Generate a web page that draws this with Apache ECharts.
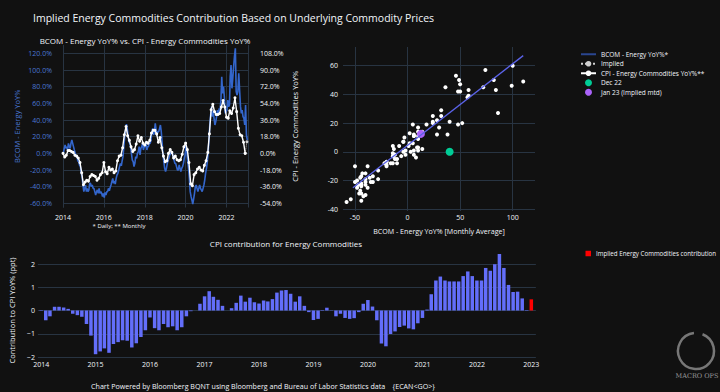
<!DOCTYPE html>
<html><head><meta charset="utf-8">
<script src="https://cdn.jsdelivr.net/npm/echarts@6/dist/echarts.min.js"></script>
<style>html,body{margin:0;padding:0;background:#111111;}#c{width:720px;height:392px;}</style>
</head><body><div id="c"></div>
<script>
// ---------- DATA ----------
const startYear = 2014;
// CPI - Energy Commodities YoY% (monthly, Jan 2014 .. Dec 2022)
const cpiYoY = [
  0, -4, -2, 3, 3, 2, 1, -2, -3, -5, -10, -21,
  -34, -31, -29, -30, -25, -23, -24, -25, -29, -27, -23, -21,
  -10, -20, -22, -15, -18, -17, -21, -19, -8, -3, -2, 6,
  20, 29, 19, 14, 7, 2, 4, 10, 19, 13, 17, 11,
  9, 12, 11, 14, 22, 25, 25, 21, 12, 17, 6, -3,
  -9, -8, 0, 4, 1, -5, -3, -7, -8, -7, -1, 7,
  11, 4, -10, -33, -35, -23, -21, -17, -15, -18, -19, -13,
  -8, 1, 21, 47, 53, 45, 42, 42, 43, 50, 57, 50,
  39, 38, 46, 43, 49, 60, 45, 27, 20, 19, 12, 0
];
// BCOM - Energy YoY% (daily series, read at ~8th of each month), Jan 2014 .. Jan 2023
const bcomFirstHalf = [
  0, 10, 8, 12, 6, 16, 8, 0, -3, -10, -16, -28,
  -46, -38, -42, -44, -36, -38, -42, -50, -44, -42, -46, -52,
  -53, -50, -46, -45, -38, -30, -33, -30, -24, -16, -15, -4,
  20, 35, 22, 12, 0, -10, -12, -6, 2, -2, 8, 4,
  8, 4, 8, 12, 26, 22, 36, 22, 26, 34, 12, -10,
  -22, -12, -6, 0, 0, -8, -12, -20, -14, -22, -16, -6,
  10, -10, -30, -52, -61, -48, -38, -46, -38, -44, -42, -32,
  -18, 2, 34, 56, 50, 34, 44, 46, 52, 92, 80, 48,
  52, 56, 92, 78, 104, 126, 70, 96, 56, 52, 42, 58,
  16
];
// BCOM - Energy YoY% (read at ~23rd of each month), Jan 2014 .. Dec 2022
const bcomSecondHalf = [
  6, 6, 4, 8, 12, 12, 4, -4, -9, -14, -24, -38,
  -42, -46, -46, -36, -40, -42, -46, -46, -48, -48, -48, -48,
  -47, -46, -42, -41, -34, -36, -37, -26, -20, -12, -9, 8,
  28, 29, 14, 8, -8, -16, -4, 0, 8, 6, 12, 8,
  12, 8, 12, 16, 30, 26, 28, 26, 30, 26, -2, -18,
  -18, -8, -2, 2, -4, -12, -16, -20, -18, -18, -12, -2,
  2, -18, -46, -56, -55, -40, -42, -42, -42, -46, -38, -24,
  -10, 18, 46, 44, 42, 38, 52, 54, 64, 72, 68, 50,
  64, 58, 106, 90, 116, 74, 74, 76, 48, 44, 34, 22
];
// BCOM - Energy YoY% monthly average (scatter x), Jan 2014 .. Dec 2022
const bcomMonthlyAvg = [
  3, 8, 6, 10, 9, 14, 6, -2, -6, -12, -20, -33,
  -44, -42, -44, -40, -38, -40, -44, -48, -46, -45, -47, -50,
  -50, -48, -44, -43, -36, -33, -35, -28, -22, -14, -12, 2,
  24, 32, 18, 10, -4, -13, -8, -3, 5, 2, 10, 6,
  10, 6, 10, 14, 28, 24, 32, 24, 28, 30, 5, -14,
  -20, -10, -4, 1, -2, -10, -14, -20, -16, -20, -14, -4,
  6, -14, -38, -54, -58, -44, -40, -44, -40, -45, -40, -28,
  -14, 10, 40, 50, 46, 36, 48, 50, 58, 82, 74, 49,
  58, 57, 99, 84, 110, 100, 72, 86, 52, 48, 38, 40
];
// Contribution to CPI YoY% (ppt), Jan 2014 .. Dec 2022
const contribution = [
  -0.02, -0.42, -0.25, 0.16, 0.16, 0.13, 0.07, -0.14, -0.2, -0.27, -0.58, -1.08,
  -1.88, -1.76, -1.63, -1.82, -1.44, -1.36, -1.28, -1.3, -1.59, -1.41, -1.14, -0.85,
  -0.3, -0.76, -0.85, -0.58, -0.72, -0.68, -0.85, -0.72, -0.25, -0.03, 0.0, 0.29,
  0.61, 0.83, 0.59, 0.46, 0.2, 0.0, 0.1, 0.33, 0.64, 0.38, 0.55, 0.36,
  0.3, 0.43, 0.39, 0.49, 0.77, 0.86, 0.88, 0.72, 0.38, 0.61, 0.2, -0.07,
  -0.41, -0.36, 0.02, 0.12, -0.01, -0.25, -0.14, -0.32, -0.36, -0.33, -0.07, 0.29,
  0.45, 0.17, -0.42, -1.42, -1.54, -1.01, -0.9, -0.71, -0.65, -0.77, -0.81, -0.55,
  -0.32, 0.04, 0.7, 1.29, 1.46, 1.29, 1.25, 1.25, 1.25, 1.48, 1.68, 1.48,
  1.29, 1.29, 1.83, 1.71, 1.99, 2.43, 1.83, 1.1, 0.8, 0.81, 0.52, 0.02
];
const impliedContribDates = ['2023-01-01'];
const impliedContrib = [0.48];
const impliedCpiDates = ['2022-12-01', '2023-01-01'];
const impliedCpi = [0, 12.5];
const dec22Point = [40, 0];
const jan23Point = [12.7, 12.5];
const fitX = [-52, 110];
const fitY = [-25, 67];
const leftTicks = [-60, -40, -20, 0, 20, 40, 60, 80, 100, 120];
const rightTicks = [-54, -36, -18, 0, 18, 36, 54, 72, 90, 108];
const scatterXTicks = [-50, 0, 50, 100];
const scatterYTicks = [-40, -20, 0, 20, 40, 60];

// ---------- BUILD ----------
const monthKey = i => (startYear + Math.floor(i / 12)) + '-' + String((i % 12) + 1).padStart(2, '0');
const cpiLine = cpiYoY.map((v, i) => [monthKey(i) + '-01', v]);
const bcomLine = [];
bcomFirstHalf.forEach((v, i) => {
  bcomLine.push([monthKey(i) + '-08', v]);
  if (i < bcomSecondHalf.length) bcomLine.push([monthKey(i) + '-23', bcomSecondHalf[i]]);
});
const scatterPts = bcomMonthlyAvg.map((x, i) => [x, cpiYoY[i]]);
const barData = contribution.map((v, i) => [monthKey(i) + '-01', v]);
const impliedBar = impliedContribDates.map((d, i) => [d, impliedContrib[i]]);
const impliedLine = impliedCpiDates.map((d, i) => [d, impliedCpi[i]]);
const fitLine = fitX.map((x, i) => [x, fitY[i]]);

const FONT = '"Open Sans", "DejaVu Sans", sans-serif';
const TXT = '#f2f5fa';
const GRIDC = '#283442';
const BLUE = '#3366cc';
const YEAR = 365 * 864e5;

const chart = echarts.init(document.getElementById('c'), null, {renderer: 'svg'});
const tickFont = {color: TXT, fontSize: 7, fontFamily: FONT};

chart.setOption({
  backgroundColor: '#111111',
  animation: false,
  textStyle: {fontFamily: FONT},
  grid: [
    {left: 63, top: 45, width: 185, height: 162.5},
    {left: 343, top: 47, width: 192, height: 164},
    {left: 37.5, top: 264, width: 498.4, height: 93}
  ],
  xAxis: [
    {type: 'time', gridIndex: 0, min: '2014-01-01', max: '2023-01-20',
     minInterval: 2 * YEAR, maxInterval: 2 * YEAR,
     axisLine: {show: false}, axisTick: {show: false},
     splitLine: {show: true, lineStyle: {color: GRIDC, width: 1}},
     axisLabel: Object.assign({formatter: '{yyyy}', margin: 6, hideOverlap: false}, tickFont)},
    {type: 'value', gridIndex: 1, min: -61.4, max: 121.2,
     axisLine: {show: false},
     axisTick: {show: false, customValues: scatterXTicks},
     splitLine: {show: true, lineStyle: {color: GRIDC}},
     axisLabel: Object.assign({customValues: scatterXTicks, margin: 3}, tickFont),
     name: 'BCOM - Energy YoY% [Monthly Average]', nameLocation: 'middle', nameGap: 16,
     nameTextStyle: {color: TXT, fontSize: 7.1, fontFamily: FONT}},
    {type: 'time', gridIndex: 2, min: '2013-12-22', max: '2023-01-20',
     minInterval: YEAR, maxInterval: YEAR,
     axisLine: {show: false}, axisTick: {show: false}, splitLine: {show: false},
     axisLabel: Object.assign({formatter: '{yyyy}', margin: 4, hideOverlap: false}, tickFont)}
  ],
  yAxis: [
    {type: 'value', gridIndex: 0, min: -65, max: 130,
     axisLine: {show: false},
     axisTick: {show: false, customValues: leftTicks},
     splitLine: {show: true, lineStyle: {color: GRIDC}},
     axisLabel: {customValues: leftTicks, formatter: v => v.toFixed(1) + '%', color: '#4a77d4', fontSize: 7, fontFamily: FONT, margin: 11},
     name: 'BCOM - Energy YoY%', nameLocation: 'middle', nameGap: 42,
     nameTextStyle: {color: '#4a77d4', fontSize: 7.5, fontFamily: FONT}},
    {type: 'value', gridIndex: 0, position: 'right', min: -58.5, max: 117,
     axisLine: {show: false},
     axisTick: {show: false, customValues: rightTicks},
     splitLine: {show: false},
     axisLabel: Object.assign({customValues: rightTicks, formatter: v => v.toFixed(1) + '%', margin: 12}, tickFont),
     name: 'CPI - Energy Commodities YoY%', nameLocation: 'middle', nameGap: 43,
     nameTextStyle: {color: TXT, fontSize: 7.5, fontFamily: FONT}},
    {type: 'value', gridIndex: 1, min: -41.2, max: 73,
     axisLine: {show: false},
     axisTick: {show: false, customValues: scatterYTicks},
     splitLine: {show: true, lineStyle: {color: GRIDC}},
     axisLabel: Object.assign({customValues: scatterYTicks, margin: 5}, tickFont)},
    {type: 'value', gridIndex: 2, min: -2, max: 2, interval: 1,
     axisLine: {show: false}, axisTick: {show: false},
     splitLine: {show: true, lineStyle: {color: GRIDC}},
     axisLabel: Object.assign({margin: 3, formatter: v => (v < 0 ? '\u2212' + (-v) : String(v))}, tickFont),
     name: 'Contribution to CPI YoY% (ppt)', nameLocation: 'middle', nameGap: 15,
     nameTextStyle: {color: TXT, fontSize: 7.5, fontFamily: FONT}}
  ],
  legend: [
    {left: 580, top: 50, padding: 0, orient: 'vertical', itemWidth: 15, itemHeight: 7, itemGap: 1,
     textStyle: {color: TXT, fontSize: 6.5, fontFamily: FONT, lineHeight: 8.5},
     data: [
       {name: 'BCOM - Energy YoY%*', itemStyle: {opacity: 0}, lineStyle: {color: '#2a4690', width: 2}},
       'Implied', 'CPI - Energy Commodities YoY%**', 'Dec 22', 'Jan 23 (Implied mtd)'
     ]},
    {left: 585.5, top: 250.5, padding: 0, itemWidth: 5.5, itemHeight: 5.5, icon: 'rect',
     textStyle: {color: TXT, fontSize: 6.2, fontFamily: FONT},
     data: ['Implied Energy Commodities contribution']}
  ],
  series: [
    {name: 'BCOM - Energy YoY%*', type: 'line', xAxisIndex: 0, yAxisIndex: 0,
     data: bcomLine, showSymbol: false, symbol: 'none', clip: false,
     lineStyle: {color: BLUE, width: 1.6}, itemStyle: {color: BLUE}},
    {name: 'Implied', type: 'line', xAxisIndex: 0, yAxisIndex: 1, data: impliedLine,
     symbol: 'circle', symbolSize: 3, lineStyle: {color: '#d0d0d0', width: 1, type: 'dotted'},
     itemStyle: {color: '#d0d0d0'}},
    {name: 'CPI - Energy Commodities YoY%**', type: 'line', xAxisIndex: 0, yAxisIndex: 1, data: cpiLine,
     symbol: 'circle', symbolSize: 3, lineStyle: {color: '#ffffff', width: 1.4},
     itemStyle: {color: '#ffffff'}},
    {name: 'monthly', type: 'scatter', xAxisIndex: 1, yAxisIndex: 2, data: scatterPts,
     symbolSize: 4, itemStyle: {color: '#ffffff', opacity: 1}},
    {name: 'fit', type: 'line', xAxisIndex: 1, yAxisIndex: 2, data: fitLine,
     symbol: 'none', lineStyle: {color: '#5b63e8', width: 1.3}},
    {name: 'Dec 22', type: 'scatter', xAxisIndex: 1, yAxisIndex: 2, data: [dec22Point],
     symbolSize: 8, itemStyle: {color: '#00cc96', opacity: 1}},
    {name: 'Jan 23 (Implied mtd)', type: 'scatter', xAxisIndex: 1, yAxisIndex: 2, data: [jan23Point],
     symbolSize: 8, itemStyle: {color: '#ab63fa', opacity: 1}},
    {name: 'CPI contribution', type: 'bar', xAxisIndex: 2, yAxisIndex: 3, data: barData,
     barWidth: 3.5, clip: false, itemStyle: {color: '#636efa'}},
    {name: 'Implied Energy Commodities contribution', type: 'bar', xAxisIndex: 2, yAxisIndex: 3,
     data: impliedBar, barWidth: 3.5, barGap: '-100%', clip: false, itemStyle: {color: '#ff0000'}}
  ],
  graphic: [
    {type: 'text', x: 33, y: 18, style: {text: 'Implied Energy Commodities Contribution Based on Underlying Commodity Prices', fill: TXT, font: '10.5px ' + FONT, verticalAlign: 'middle'}},
    {type: 'text', x: 145, y: 40, style: {text: 'BCOM - Energy YoY% vs. CPI - Energy Commodities YoY%', fill: TXT, font: '8px ' + FONT, align: 'center', verticalAlign: 'middle'}},
    {type: 'text', x: 119, y: 226, style: {text: '* Daily; ** Monthly', fill: TXT, font: '6px ' + FONT, align: 'center', verticalAlign: 'middle'}},
    {type: 'text', x: 286, y: 243.5, style: {text: 'CPI contribution for Energy Commodities', fill: TXT, font: '8px ' + FONT, align: 'center', verticalAlign: 'middle'}},
    {type: 'text', x: 263, y: 386, style: {text: 'Chart Powered by Bloomberg BQNT using Bloomberg and Bureau of Labor Statistics data    {ECAN<GO>}', fill: TXT, font: '7.1px ' + FONT, align: 'center', verticalAlign: 'middle'}},
    {type: 'arc', shape: {cx: 696, cy: 351, r: 18, startAngle: -1.2, endAngle: 4.6}, style: {stroke: '#777777', lineWidth: 2.5, fill: 'none'}},
    {type: 'text', x: 697, y: 376, style: {text: 'MACRO OPS', fill: '#9a9a9a', font: '6.5px "DejaVu Serif", serif', align: 'center', verticalAlign: 'middle'}}
  ]
});
</script>
</body></html>
